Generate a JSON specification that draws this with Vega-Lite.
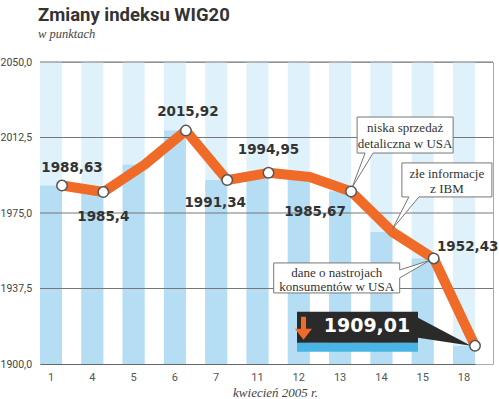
{
  "$schema": "https://vega.github.io/schema/vega-lite/v6.json",
  "width": 453,
  "height": 302,
  "autosize": "none",
  "padding": {"left": 40, "top": 62, "right": 6, "bottom": 35},
  "background": "white",
  "title": {
    "text": "Zmiany indeksu WIG20",
    "subtitle": "w punktach",
    "anchor": "start",
    "frame": "group",
    "font": "Roboto",
    "fontSize": 18.5,
    "fontWeight": "bold",
    "color": "#333333",
    "subtitleFont": "Liberation Serif",
    "subtitleFontStyle": "italic",
    "subtitleFontSize": 12.5,
    "subtitleColor": "#444444",
    "subtitlePadding": 3,
    "offset": 17,
    "dx": -2
  },
  "config": {"view": {"stroke": "#aaaaaa"}},
  "datasets": {
    "series": [
      {"day": "1", "value": 1988.63, "label": "1988,63"},
      {"day": "4", "value": 1985.4, "label": "1985,4"},
      {"day": "5", "value": 1999.0},
      {"day": "6", "value": 2015.92, "label": "2015,92"},
      {"day": "7", "value": 1991.34, "label": "1991,34"},
      {"day": "11", "value": 1994.95, "label": "1994,95"},
      {"day": "12", "value": 1992.9},
      {"day": "13", "value": 1985.67, "label": "1985,67"},
      {"day": "14", "value": 1965.6},
      {"day": "15", "value": 1952.43, "label": "1952,43"},
      {"day": "18", "value": 1909.01, "label": "1909,01"}
    ],
    "notes": [
      {"day": "13", "value": 1985.67, "note": "niska sprzedaż\ndetaliczna w USA"},
      {"day": "14", "value": 1965.6, "note": "złe informacje\nz IBM"},
      {"day": "15", "value": 1952.43, "note": "dane o nastrojach\nkonsumentów w USA"}
    ],
    "one": [{}]
  },
  "layer": [
    {
      "data": {"name": "series"},
      "encoding": {
        "x": {
          "field": "day", "type": "ordinal", "sort": null,
          "scale": {"type": "band", "domain": ["1","4","5","6","7","11","12","13","14","15","18"], "range": [0, 435], "paddingInner": 0.467, "paddingOuter": 0},
          "axis": {
            "title": "kwiecień 2005 r.", "titleFont": "Liberation Serif", "titleFontStyle": "italic", "titleFontWeight": "normal",
            "titleFontSize": 13, "titleColor": "#444444", "titleX": 235, "titleY": 28, "titleBaseline": "middle", "titleAlign": "center",
            "labelFont": "Roboto", "labelFontSize": 11, "labelColor": "#555555", "labelPadding": 7, "labelAngle": 0,
            "ticks": false, "domainColor": "#666666", "domainWidth": 1, "bandPosition": 1, "grid": false
          }
        },
        "y": {
          "field": "value", "type": "quantitative",
          "scale": {"domain": [1900, 2050], "nice": false, "zero": false},
          "axis": {
            "values": [1900, 1937.5, 1975, 2012.5, 2050],
            "labelExpr": "replace(format(datum.value, '.1f'), '.', ',')",
            "labelAlign": "left", "labelBaseline": "middle", "labelPadding": 40,
            "ticks": false, "tickSize": 0, "domain": false, "grid": false, "title": null,
            "labelFont": "Roboto", "labelFontSize": 10.5, "labelColor": "#444444"
          }
        }
      },
      "layer": [
        {"mark": {"type": "bar", "color": "#dff1fb"}, "encoding": {"y": {"datum": 2050, "type": "quantitative"}, "y2": {"datum": 1900}}},
        {"mark": {"type": "bar", "color": "#b5ddf3"}, "encoding": {"y2": {"datum": 1900}}}
      ]
    },
    {"data": {"name": "one"}, "mark": {"type": "rule", "color": "#777777", "strokeWidth": 1}, "encoding": {"y": {"datum": 2050, "type": "quantitative"}}},
    {"data": {"name": "one"}, "mark": {"type": "rule", "color": "#777777", "strokeWidth": 1}, "encoding": {"y": {"datum": 2012.5, "type": "quantitative"}}},
    {"data": {"name": "one"}, "mark": {"type": "rule", "color": "#777777", "strokeWidth": 1}, "encoding": {"y": {"datum": 1975, "type": "quantitative"}}},
    {"data": {"name": "one"}, "mark": {"type": "rule", "color": "#777777", "strokeWidth": 1}, "encoding": {"y": {"datum": 1937.5, "type": "quantitative"}}},
    {
      "encoding": {
        "x": {"field": "day", "type": "ordinal", "sort": null, "bandPosition": 1},
        "y": {"field": "value", "type": "quantitative"}
      },
      "layer": [
        {"data": {"name": "series"}, "mark": {"type": "line", "color": "#f06a28", "strokeWidth": 10, "strokeJoin": "round"}},
        {"data": {"name": "notes"}, "transform": [{"filter": "datum.day == '13'"}],
         "mark": {"type": "point", "shape": "M6,-74.5H102V-38.5H22L1,-4L14,-38.5H6Z", "size": 4, "fill": "white", "stroke": "#777777", "strokeWidth": 1, "opacity": 1, "filled": true}},
        {"data": {"name": "notes"}, "transform": [{"filter": "datum.day == '14'"}],
         "mark": {"type": "point", "shape": "M9.5,-69H99.5V-35H26.5L0,-3L16.5,-35H9.5Z", "size": 4, "fill": "white", "stroke": "#777777", "strokeWidth": 1, "opacity": 1, "filled": true}},
        {"data": {"name": "notes"}, "transform": [{"filter": "datum.day == '15'"}],
         "mark": {"type": "point", "shape": "M-160,4.5H-34V11.5L-4,2L-34,19.5V34.5H-160Z", "size": 4, "fill": "white", "stroke": "#777777", "strokeWidth": 1, "opacity": 1, "filled": true}},
        {"data": {"name": "series"}, "transform": [{"filter": "datum.day == '18'"}],
         "mark": {"type": "point", "shape": "M-178,-3H-57V6H-178Z", "size": 4, "fill": "#48b5e5", "strokeWidth": 0, "opacity": 1, "filled": true}},
        {"data": {"name": "series"}, "transform": [{"filter": "datum.day == '18'"}],
         "mark": {"type": "point", "shape": "M-178,-34H-57V-28L-4,0L-57,-8V-3H-178Z", "size": 4, "fill": "#2a2a2a", "strokeWidth": 0, "opacity": 1, "filled": true}},
        {"data": {"name": "series"}, "transform": [{"filter": "datum.day == '18'"}],
         "mark": {"type": "point", "shape": "M-174,-29H-169V-17H-163L-171.5,-6L-180,-17H-174Z", "size": 4, "fill": "#f06a28", "strokeWidth": 0, "opacity": 1, "filled": true}},
        {"data": {"name": "series"}, "transform": [{"filter": "isValid(datum.label)"}],
         "mark": {"type": "point", "shape": "circle", "size": 110, "fill": "white", "stroke": "#555555", "strokeWidth": 1.5, "opacity": 1, "filled": true}},
        {"data": {"name": "series"}, "transform": [{"filter": "datum.day == '1'"}],
         "mark": {"type": "text", "font": "DejaVu Sans", "fontWeight": "bold", "fontSize": 13.5, "color": "#333333", "baseline": "middle", "dx": 10, "dy": -18},
         "encoding": {"text": {"field": "label"}}},
        {"data": {"name": "series"}, "transform": [{"filter": "datum.day == '4'"}],
         "mark": {"type": "text", "font": "DejaVu Sans", "fontWeight": "bold", "fontSize": 13.5, "color": "#333333", "baseline": "middle", "dx": 0, "dy": 25},
         "encoding": {"text": {"field": "label"}}},
        {"data": {"name": "series"}, "transform": [{"filter": "datum.day == '6'"}],
         "mark": {"type": "text", "font": "DejaVu Sans", "fontWeight": "bold", "fontSize": 13.5, "color": "#333333", "baseline": "middle", "dx": 2, "dy": -19},
         "encoding": {"text": {"field": "label"}}},
        {"data": {"name": "series"}, "transform": [{"filter": "datum.day == '7'"}],
         "mark": {"type": "text", "font": "DejaVu Sans", "fontWeight": "bold", "fontSize": 13.5, "color": "#333333", "baseline": "middle", "dx": -12, "dy": 23},
         "encoding": {"text": {"field": "label"}}},
        {"data": {"name": "series"}, "transform": [{"filter": "datum.day == '11'"}],
         "mark": {"type": "text", "font": "DejaVu Sans", "fontWeight": "bold", "fontSize": 13.5, "color": "#333333", "baseline": "middle", "dx": 0, "dy": -23},
         "encoding": {"text": {"field": "label"}}},
        {"data": {"name": "series"}, "transform": [{"filter": "datum.day == '13'"}],
         "mark": {"type": "text", "font": "DejaVu Sans", "fontWeight": "bold", "fontSize": 13.5, "color": "#333333", "baseline": "middle", "dx": -36, "dy": 20},
         "encoding": {"text": {"field": "label"}}},
        {"data": {"name": "series"}, "transform": [{"filter": "datum.day == '15'"}],
         "mark": {"type": "text", "font": "DejaVu Sans", "fontWeight": "bold", "fontSize": 13.5, "color": "#333333", "baseline": "middle", "dx": 34, "dy": -11},
         "encoding": {"text": {"field": "label"}}},
        {"data": {"name": "series"}, "transform": [{"filter": "datum.day == '18'"}],
         "mark": {"type": "text", "font": "DejaVu Sans", "fontWeight": "bold", "fontSize": 19, "color": "white", "baseline": "middle", "dx": -108, "dy": -20},
         "encoding": {"text": {"field": "label"}}},
        {"data": {"name": "notes"}, "transform": [{"filter": "datum.day == '13'"}],
         "mark": {"type": "text", "font": "Liberation Serif", "fontSize": 13, "color": "#333333", "baseline": "middle", "lineBreak": "\n", "lineHeight": 16, "dx": 54, "dy": -63.5},
         "encoding": {"text": {"field": "note"}}},
        {"data": {"name": "notes"}, "transform": [{"filter": "datum.day == '14'"}],
         "mark": {"type": "text", "font": "Liberation Serif", "fontSize": 13, "color": "#333333", "baseline": "middle", "lineBreak": "\n", "lineHeight": 15, "dx": 54.5, "dy": -58},
         "encoding": {"text": {"field": "note"}}},
        {"data": {"name": "notes"}, "transform": [{"filter": "datum.day == '15'"}],
         "mark": {"type": "text", "font": "Liberation Serif", "fontSize": 13, "color": "#333333", "baseline": "middle", "lineBreak": "\n", "lineHeight": 14, "dx": -97, "dy": 14.5},
         "encoding": {"text": {"field": "note"}}}
      ]
    }
  ]
}
